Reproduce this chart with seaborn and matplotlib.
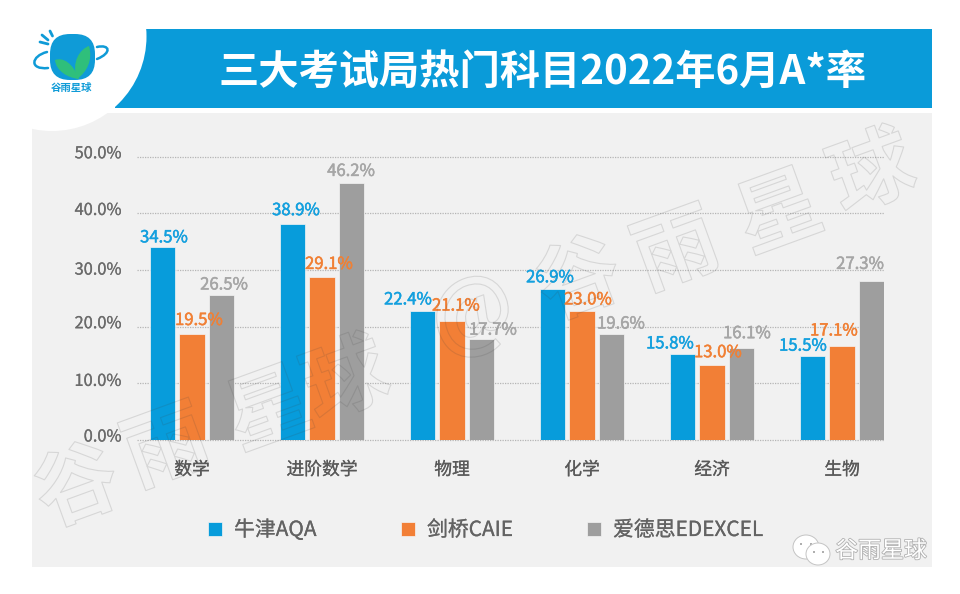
import pandas as pd
import matplotlib.pyplot as plt
import seaborn as sns
import matplotlib.patheffects as pe
from matplotlib.patches import Rectangle, Circle, Ellipse, FancyBboxPatch, PathPatch
from matplotlib.path import Path
from matplotlib.transforms import Affine2D

subjects = ['数学', '进阶数学', '物理', '化学', '经济', '生物']
boards = ['牛津AQA', '剑桥CAIE', '爱德思EDEXCEL']

# bar heights as drawn in the picture (they differ a bit from the printed labels)
aqa_bars = [34.1, 38.2, 22.8, 26.7, 15.2, 14.8]
caie_bars = [18.8, 28.7, 21.0, 22.8, 13.3, 16.6]
edexcel_bars = [25.6, 45.3, 17.8, 18.7, 16.3, 28.0]

# printed labels
aqa_labels = ['34.5%', '38.9%', '22.4%', '26.9%', '15.8%', '15.5%']
caie_labels = ['19.5%', '29.1%', '21.1%', '23.0%', '13.0%', '17.1%']
edexcel_labels = ['26.5%', '46.2%', '17.7%', '19.6%', '16.1%', '27.3%']

y_ticks = [0, 10, 20, 30, 40, 50]
y_tick_labels = ['0.0%', '10.0%', '20.0%', '30.0%', '40.0%', '50.0%']

BLUE, ORANGE, GRAY = '#079cdb', '#f27f36', '#9e9e9e'
TEXT_COLORS = ['#14a0de', '#f08035', '#a6a6a6']

# pixel nudges of the value labels relative to the top centre of each bar
label_dx = [[1, 3, -15, -3, -13, -10], [7, 7, 4, 6, 6, -8], [3, 0, 12, 10, 6, -11]]
label_dy = [[9, 13, 11, 11, 10, 10], [13, 13, 15, 11, 12, 15], [10, 12, 9, 10, 14, 17]]
tick_dy = [5, 4, 5, 2, 5, 5]

df = pd.DataFrame({
    'subject': subjects * 3,
    'board': [b for b in boards for _ in subjects],
    'rate': aqa_bars + caie_bars + edexcel_bars,
})

sns.set_theme(style='white')
plt.rcParams['font.family'] = ['Noto Sans CJK SC', 'DejaVu Sans']


def thick(color, width=0.15):
    # the font has no medium weight here, so thicken regular with a thin stroke
    return [pe.withStroke(linewidth=width, foreground=color)]


W, H = 960, 594
fig = plt.figure(figsize=(W / 100, H / 100), dpi=100, facecolor='white')

# background layer in pixel coordinates
bg = fig.add_axes([0, 0, 1, 1], zorder=0)
bg.set_xlim(0, W)
bg.set_ylim(H, 0)
bg.axis('off')
bg.add_patch(Rectangle((32, 113), 900, 454, fc='#f1f1f1', ec='none'))
bg.add_patch(Rectangle((115, 29), 817, 79, fc='#0a9bd9', ec='none'))
bg.add_patch(Circle((52, 36.5), 94.5, fc='white', ec='none'))
bg.text(542.5, 72.5, '三大考试局热门科目2022年6月A*率', color='white', fontsize=29,
        fontweight='bold', ha='center', va='center')

# logo
bg.add_patch(FancyBboxPatch((60, 44), 25, 26, boxstyle='round,pad=10,rounding_size=20',
                            fc='#0f9bd7', ec='none'))
left_leaf = Path([(79, 79), (73, 63), (63, 57), (55, 60), (56, 71), (68, 78), (79, 79)],
                 [1, 4, 4, 4, 4, 4, 4])
right_leaf = Path([(77, 79), (71, 62), (80, 49), (89, 46), (93, 60), (87, 72), (77, 79)],
                  [1, 4, 4, 4, 4, 4, 4])
for leaf in (left_leaf, right_leaf):
    bg.add_patch(PathPatch(leaf, fc='#2fbf7b', ec='none'))
ring_left = Path([(47, 52), (31, 56), (29, 70), (48, 68)], [1, 4, 4, 4])
ring_right = Path([(97, 47), (110, 44), (112, 53), (97, 59)], [1, 4, 4, 4])
for ring in (ring_left, ring_right):
    bg.add_patch(PathPatch(ring, fc='none', ec='#0f9bd7', lw=1.8, capstyle='round'))
for x0, y0, x1, y1 in [(40, 42, 48, 44), (42, 35, 48, 40), (50, 31, 52.5, 36)]:
    bg.plot([x0, x1], [y0, y1], color='#0f9bd7', lw=2, solid_capstyle='round')
bg.text(72, 87.5, '谷雨星球', color='#0f9bd7', fontsize=7.5, fontweight='bold',
        ha='center', va='center')

# chart, bottom at y=440 and left at x=137 in pixels
ax = fig.add_axes([137 / W, 1 - 440 / H, (884 - 137) / W, 290 / H], zorder=1)
ax.patch.set_alpha(0)
sns.barplot(data=df, x='subject', y='rate', hue='board', order=subjects, hue_order=boards,
            palette=[BLUE, ORANGE, GRAY], saturation=1, width=0.67, gap=0.138,
            edgecolor='#f4f4f4', linewidth=0.5, legend=True, ax=ax)
handles, _ = ax.get_legend_handles_labels()
ax.get_legend().remove()

ax.set_xlim(-0.423, 5.323)
ax.set_ylim(0, 51.2)
ax.set_xlabel('')
ax.set_ylabel('')
sns.despine(ax=ax, left=True, bottom=True, top=True, right=True)
ax.set_axisbelow(True)
ax.grid(axis='y', color='#b5b5b5', linestyle=(0, (1, 1)), linewidth=0.9, clip_on=False)
ax.grid(axis='x', visible=False)
for line in ax.get_ygridlines():
    line.set_clip_on(False)

ax.set_yticks(y_ticks, y_tick_labels)
ax.tick_params(axis='y', length=0, pad=11, labelsize=11.8, labelcolor='#6b6b6b')
ax.tick_params(axis='x', length=0, pad=15, labelsize=12.8, labelcolor='#595959')
for tick, dy in zip(ax.yaxis.get_major_ticks(), tick_dy):
    tick.label1.set_transform(tick.label1.get_transform() + Affine2D().translate(0, dy))
    tick.label1.set_path_effects(thick('#6b6b6b'))
for tick in ax.xaxis.get_major_ticks():
    tick.label1.set_path_effects(thick('#595959'))

all_labels = [aqa_labels, caie_labels, edexcel_labels]
for i, container in enumerate(ax.containers):
    for j, bar in enumerate(container):
        ax.annotate(all_labels[i][j], (bar.get_x() + bar.get_width() / 2, bar.get_height()),
                    xytext=(label_dx[i][j], label_dy[i][j]), textcoords='offset pixels',
                    ha='center', va='center', color=TEXT_COLORS[i], fontsize=12, zorder=6,
                    path_effects=thick(TEXT_COLORS[i], 0.35))

# one legend per entry, the gaps in the reference are not even
for handle, board, x in zip(handles, boards, [208, 401, 587]):
    leg = fig.legend([handle], [board], loc='center left', bbox_to_anchor=(x / W, 1 - 530 / H),
                     frameon=False, fontsize=15, labelcolor='#636363', handlelength=0.67,
                     handleheight=0.67, handletextpad=0.58, borderpad=0, borderaxespad=0)
    for t in leg.get_texts():
        t.set_path_effects(thick('#636363'))

# diagonal watermark
watermark = [('谷', 78, 489), ('雨', 167, 449), ('星', 270, 412), ('球', 347, 382), ('@', 473, 316),
             ('谷', 580, 282), ('雨', 677, 252), ('星', 780, 215), ('球', 873, 175)]
for ch, x, y in watermark:
    fig.text(x / W, 1 - y / H, ch, fontsize=60, fontweight='bold', rotation=20, ha='center',
             va='center', color=(0, 0, 0, 0), zorder=4,
             path_effects=[pe.Stroke(linewidth=0.8, foreground=(0.25, 0.25, 0.25, 0.15))])

# wechat mark bottom right
for (cx, cy, rx, ry), eyes in [((806, 547, 13, 12), [(801, 544), (811, 544)]),
                               ((818, 554, 12, 11), [(814, 552), (823, 552)])]:
    bg.add_patch(Ellipse((cx, cy), 2 * rx, 2 * ry, fc='white', ec='#c4c4c4', lw=0.7))
    for ex, ey in eyes:
        bg.add_patch(Circle((ex, ey), 1, fc='#9a9a9a', ec='none'))
bg.text(881, 551, '谷雨星球', color='white', fontsize=16.5, ha='center', va='center',
        path_effects=[pe.withStroke(linewidth=1.2, foreground='#b0b0b0')])

fig.savefig('out.png', dpi=100, facecolor='white')
